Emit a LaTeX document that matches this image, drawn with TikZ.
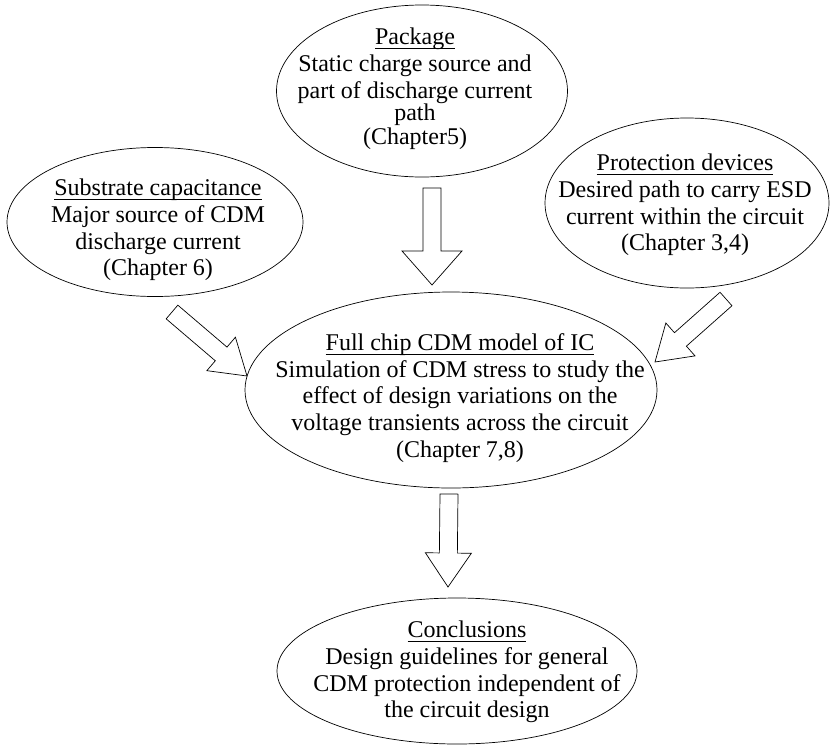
\documentclass[tikz,border=0pt]{standalone}
\usepackage{fontspec}
\setmainfont{Liberation Serif}
\usetikzlibrary{calc,shapes.geometric}

% underlined title, rule at a fixed depth
\newcommand{\titleline}[1]{\setbox0\hbox{#1}\rlap{\vrule width\wd0 height -3.4pt depth 4.6pt}\box0}

% hollow block arrow from #2 to #3, #1 = half width of the head
\newcommand{\hollowarrow}[3][22pt]{%
  \coordinate (neck) at ($(#3)!34pt!(#2)$);
  \draw[blockarrow] ($(#2)!9pt!90:(#3)$) -- ($(neck)!9pt!90:(#3)$)
    -- ($(neck)!#1!90:(#3)$) -- (#3) -- ($(neck)!#1!-90:(#3)$)
    -- ($(neck)!9pt!-90:(#3)$) -- ($(#2)!9pt!-90:(#3)$) -- cycle;
}

\begin{document}
\begin{tikzpicture}[x=1pt,y=-1pt]
  \tikzset{
    bubble/.style={draw, ellipse, inner sep=0pt, line width=0.7pt},
    bubbletext/.style={align=center, inner sep=0pt,
      font=\fontsize{24}{26.7}\selectfont},
    blockarrow/.style={draw, fill=white, line width=0.7pt, line join=miter}
  }
  \useasboundingbox (0,0) rectangle (830,745);

  % the five ellipses
  \node[bubble, minimum width=291pt, minimum height=172pt] (pkg) at (422,91) {};
  \node[bubble, minimum width=296pt, minimum height=149pt] (sub) at (155,222) {};
  \node[bubble, minimum width=284pt, minimum height=170pt] (prot) at (687,203) {};
  \node[bubble, minimum width=412pt, minimum height=196pt] (chip) at (451,390) {};
  \node[bubble, minimum width=360pt, minimum height=146pt] (concl) at (457,671) {};

  % texts
  \node[bubbletext] (pkg-t) at (415,89) {\titleline{Package}\\ Static charge source and\\
    part of discharge current\\[-4pt] path\\[-3pt] (Chapter5)};
  \node[bubbletext] (sub-t) at (158,230) {\titleline{Substrate capacitance}\\
    Major source of CDM\\ discharge current\\ (Chapter 6)};
  \node[bubbletext] (prot-t) at (685,205) {\titleline{Protection devices}\\
    Desired path to carry ESD\\ current within the circuit\\ (Chapter 3,4)};
  \node[bubbletext] (chip-t) at (460,398) {\titleline{Full chip CDM model of IC}\\
    Simulation of CDM stress to study the\\ effect of design variations on the\\
    voltage transients across the circuit\\ (Chapter 7,8)};
  \node[bubbletext] (concl-t) at (467,672) {\titleline{Conclusions}\\
    Design guidelines for general\\ CDM protection independent of\\
    the circuit design};

  % arrows
  \coordinate (pkg-tail) at (432,188);
  \coordinate (pkg-tip) at (432,285);
  \coordinate (sub-tail) at (172,312);
  \coordinate (sub-tip) at (247,376);
  \coordinate (prot-tail) at (726,299);
  \coordinate (prot-tip) at (655,362);
  \coordinate (chip-tail) at (449,494);
  \coordinate (chip-tip) at (448,587);

  \hollowarrow[30pt]{pkg-tail}{pkg-tip}
  \hollowarrow{sub-tail}{sub-tip}
  \hollowarrow{prot-tail}{prot-tip}
  \hollowarrow[23pt]{chip-tail}{chip-tip}
\end{tikzpicture}
\end{document}
